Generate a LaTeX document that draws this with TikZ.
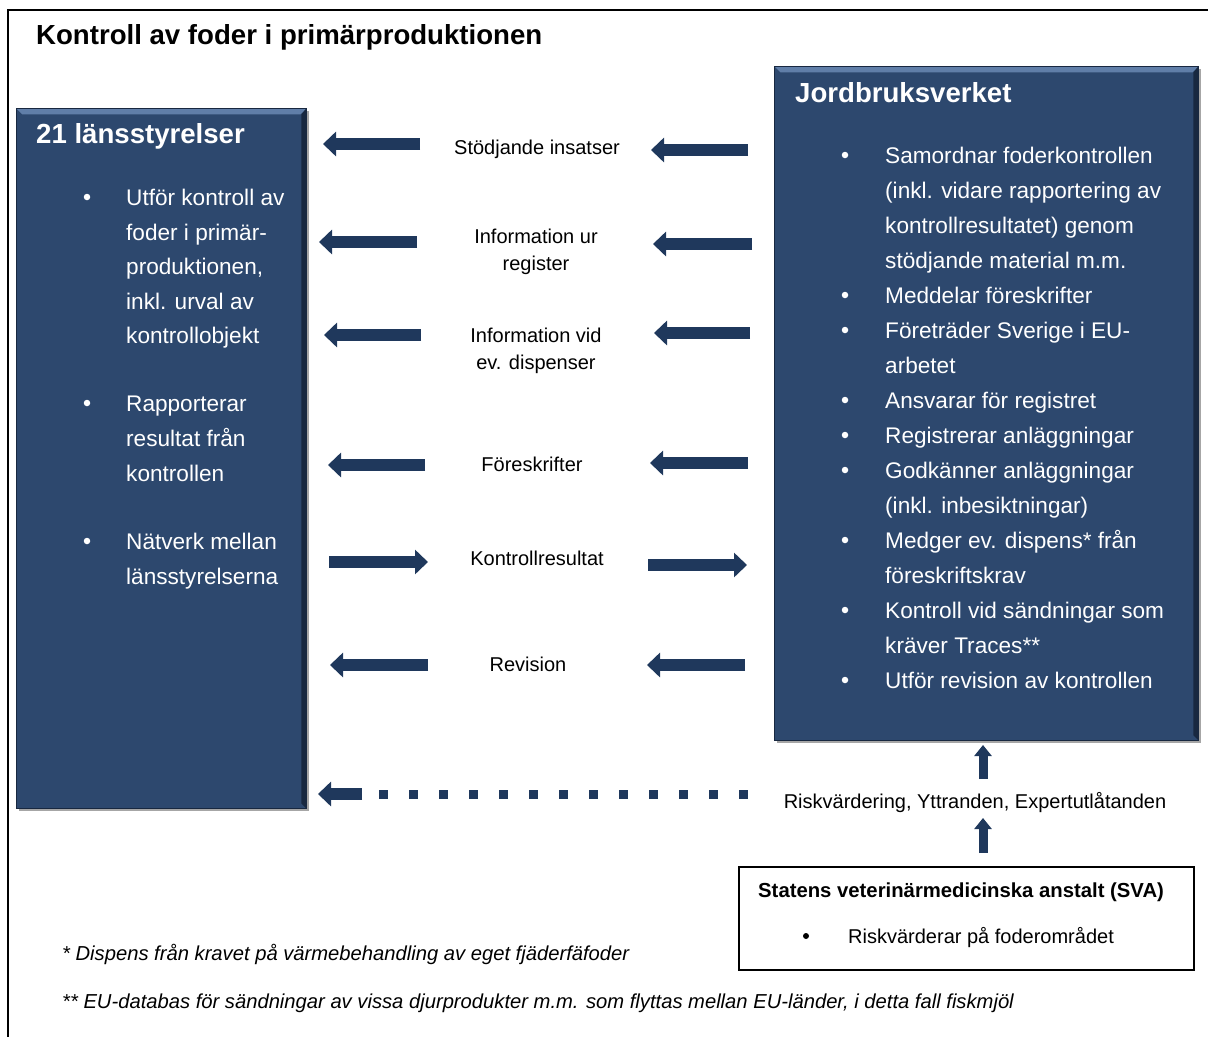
\documentclass[tikz,border=0pt]{standalone}
\usepackage{fontspec}
\setmainfont{Liberation Sans}
\usetikzlibrary{arrows.meta,shadows}

\definecolor{boxblue}{RGB}{45,72,110}
\definecolor{boxlight}{RGB}{96,126,168}
\definecolor{boxdark}{RGB}{24,40,64}
\definecolor{arrowblue}{RGB}{31,56,92}

\tikzset{
  bluebox/.style={fill=boxblue, draw=boxdark, line width=0.8pt, anchor=north west, inner sep=0pt,
    drop shadow={shadow xshift=3pt, shadow yshift=-3pt, opacity=0.35, fill=black},
    path picture={
      \fill[boxlight] (path picture bounding box.north west) -- (path picture bounding box.north east)
        -- ([xshift=-6pt,yshift=-6pt]path picture bounding box.north east)
        -- ([xshift=6pt,yshift=-6pt]path picture bounding box.north west) -- cycle;
      \fill[boxdark] (path picture bounding box.north east) -- (path picture bounding box.south east)
        -- ([xshift=-5pt,yshift=5pt]path picture bounding box.south east)
        -- ([xshift=-5pt,yshift=-6pt]path picture bounding box.north east) -- cycle;
    }},
  titletext/.style={font=\fontsize{27.6}{32}\selectfont\bfseries, anchor=base west, inner sep=0pt},
  headtext/.style={titletext, text=white},
  boxtext/.style={font=\fontsize{22.6}{27}\selectfont, text=white, anchor=base west, inner sep=0pt},
  midtext/.style={font=\fontsize{20}{27}\selectfont, align=center, inner sep=0pt},
  notetext/.style={font=\fontsize{20.2}{24}\selectfont\itshape, anchor=base west, inner sep=0pt},
  bulletdot/.style={circle, fill=white, inner sep=0pt, minimum size=6.5pt},
  blockarrow/.style={arrowblue, line width=12.5pt, -{Triangle[width=24pt,length=13pt]}},
  smallarrow/.style={arrowblue, line width=9pt, -{Triangle[width=17pt,length=11pt]}}
}

\begin{document}
\begin{tikzpicture}[x=1pt, y=-1pt]
  \useasboundingbox (0,0) rectangle (1208,1037);
  \draw[line width=1.5pt] (1208,10) -- (8,10) -- (8,1037);

  \node[titletext] (title) at (36,44) {Kontroll av foder i primärproduktionen};

  % boxes
  \node[bluebox, minimum width=290, minimum height=700] (lan) at (16,108) {};
  \node[bluebox, minimum width=424, minimum height=674] (jbv) at (774,66) {};
  \node[draw, line width=1.5pt, anchor=north west, minimum width=455, minimum height=103] (sva) at (738,866) {};

  \node[headtext] (lanhead) at (36,143) {21 länsstyrelser};
  \node[headtext] (jbvhead) at (795,102) {Jordbruksverket};

  \foreach \y/\t [count=\i] in {205/Utför kontroll av, 240/foder i primär-, 274/{produktionen,},
      309/inkl. urval av, 343/kontrollobjekt, 411/Rapporterar, 446/resultat från,
      481/kontrollen, 549/Nätverk mellan, 584/länsstyrelserna}
    \node[boxtext] (lt\i) at (126,\y) {\t};
  \foreach \y [count=\i] in {205,411,549}
    \node[bulletdot] (lb\i) at (87,\y-8) {};

  \foreach \y/\t [count=\i] in {163/Samordnar foderkontrollen, 198/(inkl. vidare rapportering av,
      233/kontrollresultatet) genom, 268/stödjande material m.m., 303/Meddelar föreskrifter,
      338/Företräder Sverige i EU-, 373/arbetet, 408/Ansvarar för registret,
      443/Registrerar anläggningar, 478/Godkänner anläggningar, 513/(inkl. inbesiktningar),
      548/Medger ev. dispens* från, 583/föreskriftskrav, 618/Kontroll vid sändningar som,
      653/kräver Traces**, 688/Utför revision av kontrollen}
    \node[boxtext] (jt\i) at (885,\y) {\t};
  \foreach \y [count=\i] in {163,303,338,408,443,478,548,618,688}
    \node[bulletdot] (jb\i) at (845,\y-8) {};

  % labels between the boxes
  \node[midtext, anchor=base] (stod) at (537,154) {Stödjande insatser};
  \node[midtext] (infreg) at (536,252) {Information ur\\register};
  \node[midtext] (infdisp) at (536,351) {Information vid\\ev. dispenser};
  \node[midtext, anchor=base] (foresk) at (532,471) {Föreskrifter};
  \node[midtext, anchor=base] (kontres) at (537,565) {Kontrollresultat};
  \node[midtext, anchor=base] (rev) at (528,671) {Revision};
  \node[midtext, anchor=base] (risk) at (975,808) {Riskvärdering, Yttranden, Expertutlåtanden};

  % arrows
  \foreach \n/\yl/\yr/\la/\lb/\ra/\rb in {1/144/150/420/323/748/651, 2/242/244/417/319/752/653,
      3/335/333/421/324/750/654, 4/465/463/425/328/748/650,
      5/562/565/329/428/648/747, 6/665/665/428/330/745/647} {
    \coordinate (ls\n) at (\la,\yl);
    \coordinate (le\n) at (\lb,\yl);
    \coordinate (rs\n) at (\ra,\yr);
    \coordinate (re\n) at (\rb,\yr);
    \draw[blockarrow] (ls\n) -- (le\n);
    \draw[blockarrow] (rs\n) -- (re\n);
  }

  \coordinate (ds) at (748,794);
  \coordinate (dm) at (379,794);
  \coordinate (da) at (362,794);
  \coordinate (de) at (318,794);
  \draw[arrowblue, line width=9pt, dash pattern=on 9pt off 21pt] (dm) -- (ds);
  \draw[blockarrow] (da) -- (de);

  \coordinate (v1s) at (983,779);
  \coordinate (v1e) at (983,745);
  \coordinate (v2s) at (983,853);
  \coordinate (v2e) at (983,818);
  \draw[smallarrow] (v1s) -- (v1e);
  \draw[smallarrow] (v2s) -- (v2e);

  % SVA
  \node[font=\fontsize{20.3}{24}\selectfont\bfseries, anchor=base west, inner sep=0pt] (svahead) at (758,897)
    {Statens veterinärmedicinska anstalt (SVA)};
  \node[circle, fill=black, inner sep=0pt, minimum size=6pt] (svab) at (806,936) {};
  \node[font=\fontsize{20}{24}\selectfont, anchor=base west, inner sep=0pt] (svat) at (848,943)
    {Riskvärderar på foderområdet};

  % footnotes
  \node[notetext] (fn1) at (62,960) {* Dispens från kravet på värmebehandling av eget fjäderfäfoder};
  \node[notetext] (fn2) at (62,1008) {** EU-databas för sändningar av vissa djurprodukter m.m. som flyttas mellan EU-länder, i detta fall fiskmjöl};
\end{tikzpicture}
\end{document}
